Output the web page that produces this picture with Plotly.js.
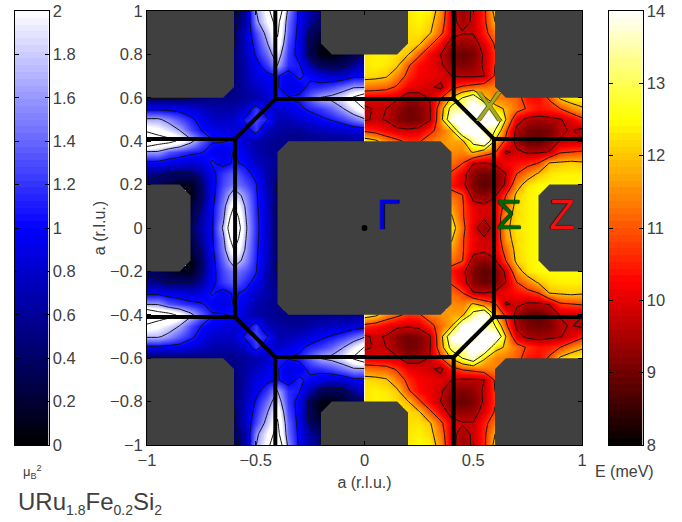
<!DOCTYPE html>
<html><head><meta charset="utf-8">
<script src="https://cdn.plot.ly/plotly-3.0.1.min.js"></script>
<style>html,body{margin:0;padding:0;background:#fff}#g{width:682px;height:522px}</style>
</head><body><div id="g"></div>
<script>
const _ = null;
// |x| columns and y rows (upper right quadrant; the figure mirrors it)
const absX = [0,.05,.1,.15,.2,.25,.3,.35,.4,.45,.5,.55,.6,.65,.7,.75,.8,.85,.9,.95,1];
const rowY = [1,.95,.9,.85,.8,.75,.7,.65,.6,.55,.5,.45,.4,.35,.3,.25,.2,.15,.1,.05,0];
// Energy in meV, right half
const energy = [
[_,_,_,_,12.3,12.5,12.4,11.5,9.9,9.4,9.8,10.6,12.2,_,_,_,_,_,_,_,_],
[_,_,_,_,12.3,12.4,12.2,11.3,9.9,9.45,9.8,10.6,11.9,_,_,_,_,_,_,_,_],
[_,_,_,_,12.2,12.3,12.0,11.0,10,9.75,9.75,10.5,11.4,_,_,_,_,_,_,_,_],
[_,_,_,_,12.2,12.05,11,10.2,9.4,9.3,9.4,10,10.9,_,_,_,_,_,_,_,_],
[12.3,12.4,12.4,12.2,11.95,10.95,10.2,9.7,9.1,8.9,9.1,9.8,10.7,_,_,_,_,_,_,_,_],
[12.3,12.4,12.3,12.05,10.9,10.3,10.1,9.8,9.3,9.1,9.3,9.8,10.8,_,_,_,_,_,_,_,_],
[12.2,12.15,12.0,11.3,10.6,10.2,10.1,10,9.7,9.6,9.6,9.7,10.9,_,_,_,_,_,_,_,_],
[11.3,11.2,11.1,10.7,10.1,10,9.85,9.5,10.5,10.9,11.1,11.3,11.4,11.4,_,_,_,_,_,_,_],
[10,10,9.95,9.8,9.35,9.45,9.75,10.7,12,13,13.8,12,11.4,11.3,11.1,10.4,10.3,10.9,12.05,12.4,12.4],
[9.6,9.75,9.7,9.3,9,9.1,9.6,11.4,13.4,13.4,14.5,14.5,12.2,11.8,11.2,10.7,10.4,10.5,10.8,11.4,11.8],
[9.6,9.8,9.65,9.2,9,9.1,9.6,11.5,14,14.5,13.4,14.5,14.5,11.9,10,9.5,9.4,9.5,9.65,10,10.6],
[10.6,10.4,10.1,9.85,9.8,9.9,10.5,11.2,11.8,14.3,14.6,13.4,13,11,9.5,9.1,9,9.1,9.6,9.75,9.5],
[12.4,12.1,11.4,11,10.6,10.7,11.3,11.5,11.7,11.7,13.4,14.4,11.8,10.6,9.4,8.9,8.85,9.2,9.75,9.8,9.75],
[_,_,_,_,_,_,_,_,11.5,11.4,12,11.3,10.9,9.6,9.85,9.6,9.6,9.75,10.7,10.8,10.9],
[_,_,_,_,_,_,_,_,11.2,10.85,9.75,9.7,9.8,10.2,10.3,10.5,10.8,11.9,12,12.1,12],
[_,_,_,_,_,_,_,_,10.7,10,9.2,8.9,9.2,9.7,10.8,11.4,12,12.3,12.4,12.4,12.4],
[_,_,_,_,_,_,_,_,10.4,9.9,9.1,8.8,9.1,9.8,11.5,12.3,12.5,12.5,12.5,12.5,12.5],
[_,_,_,_,_,_,_,_,11.2,10.85,9.35,9.2,9.6,10.8,12.1,12.4,12.5,_,_,_,_],
[_,_,_,_,_,_,_,_,11.6,10.9,10,9.85,10.1,11.1,12.2,12.4,12.5,_,_,_,_],
[_,_,_,_,_,_,_,_,12,10.9,10.1,9.8,9.95,11.6,12.2,12.4,12.5,_,_,_,_],
[_,_,_,_,_,_,_,_,12.4,11.1,9.9,9.3,10,11.7,12.3,12.4,12.5,_,_,_,_]
];
// Moment squared in muB^2, left half, same |x| columns
const moment = [
[_,_,_,_,.46,.66,.99,1.54,2.75,2.04,1.63,.6,.33,_,_,_,_,_,_,_,_],
[_,_,_,_,.42,.6,.97,1.43,2.42,1.98,1.54,.64,.36,_,_,_,_,_,_,_,_],
[_,_,_,_,.2,.41,.94,1.38,2.31,1.76,1.27,.77,.41,_,_,_,_,_,_,_,_],
[_,_,_,_,.09,.33,.94,1.27,2.15,1.6,1.16,.75,.44,_,_,_,_,_,_,_,_],
[.44,.33,.17,.06,.06,.31,.94,1.21,1.87,1.43,1.08,.72,.46,_,_,_,_,_,_,_,_],
[.77,.6,.36,.33,.36,.66,1.08,1.16,1.65,1.21,.94,.68,.46,_,_,_,_,_,_,_,_],
[.99,.97,.83,.79,.88,.99,1.1,.94,1.07,.96,.88,.66,.46,_,_,_,_,_,_,_,_],
[1.6,1.6,1.43,1.27,1.16,1.12,.94,.88,1.07,.88,.77,.64,.5,.5,_,_,_,_,_,_,_],
[2.64,2.31,1.93,1.76,1.67,1.38,1.1,1.07,1.08,.79,.66,.6,.55,.53,.51,.47,.44,.42,.41,.4,.41],
[2.27,1.93,1.63,1.38,1.21,1.12,.99,.86,.79,.86,1.2,.79,.68,.66,.68,.77,.86,.94,.95,.97,.97],
[1.6,1.41,1.21,1.08,.99,.88,.79,.72,.68,1.1,1.25,1.1,.79,.77,.79,.94,1.12,1.32,1.54,1.71,1.71],
[.88,.86,.79,.77,.72,.66,.6,.6,.64,.72,1.2,.88,.83,.88,.94,1.05,1.27,1.65,1.87,2.04,2.15],
[.6,.57,.55,.55,.55,.53,.52,.53,.55,.6,.66,.79,1.02,1.07,1.07,1.38,1.76,2.15,2.42,2.53,2.86],
[_,_,_,_,_,_,_,_,.55,.6,.68,.88,1.07,.88,.97,1.07,1.12,1.21,1.32,1.6,1.6],
[_,_,_,_,_,_,_,_,.55,.66,.77,1.01,1.08,.96,1.08,.88,.83,.88,.91,.96,.96],
[_,_,_,_,_,_,_,_,.46,.66,.97,1.16,1.38,1.21,.97,.6,.42,.41,.42,.51,.55],
[_,_,_,_,_,_,_,_,.44,.68,1.08,1.32,1.49,1.27,.94,.44,.11,.11,.22,.33,.39],
[_,_,_,_,_,_,_,_,.39,.75,1.1,1.54,1.87,1.38,.94,.42,.06,_,_,_,_],
[_,_,_,_,_,_,_,_,.36,.77,1.12,1.65,2.26,1.49,.99,.5,.22,_,_,_,_],
[_,_,_,_,_,_,_,_,.36,.79,1.14,1.71,2.64,1.54,1.01,.6,.33,_,_,_,_],
[_,_,_,_,_,_,_,_,.36,.79,1.16,1.76,2.97,1.71,1.02,.66,.39,_,_,_,_]
];
// no-data regions
const centreX=[-.35,.35,.4,.4,.35,-.35,-.4,-.4,-.35], centreY=[.4,.4,.35,-.35,-.4,-.4,-.35,.35,.4];
const topX=[-.2,.2,.2,.15,-.15,-.2,-.2], topY=[1,1,.85,.8,.8,.85,1];
const sideX=[1,.85,.8,.8,.85,1,1], sideY=[.2,.2,.15,-.15,-.2,-.2,.2];
const cornerX=[.6,1,1,.65,.6,.6], cornerY=[1,1,.6,.6,.65,1];
// zone boundary
const zoneX=[-.41,-.41,-.595,-1,null,-.595,-.595,null,-.41,.41,null,.41,.41,.595,1,null,.595,.595,null,-.41,-.41,-.595,-1,null,-.41,.41,null,.41,.41,.595,1];
const zoneY=[1,.595,.41,.41,null,.41,-.41,null,.595,.595,null,1,.595,.41,.41,null,.41,-.41,null,-1,-.595,-.41,-.41,null,-.595,-.595,null,-1,-.595,-.41,-.41];
const momentTicks=[0,.2,.4,.6,.8,1,1.2,1.4,1.6,1.8,2];
const energyTicks=[8,9,10,11,12,13,14];
const yTicks=[-1,-.8,-.6,-.4,-.2,0,.2,.4,.6,.8,1];
const xTicks=[-1,-.5,0,.5,1];

const blueScale=[[0,'#000000'],[.5,'#0000ff'],[1,'#ffffff']];
const hotScale=[[0,'#000000'],[.375,'#ff0000'],[.75,'#ffff00'],[1,'#ffffff']];
const ink='#404040', gray='#404040';
const W=682,H=522, fx=p=>p/W, fy=p=>1-p/H;

const ys=rowY.concat(rowY.slice(0,-1).reverse().map(v=>-v));
const mirrorRows=rows=>rows.concat(rows.slice(0,-1).reverse());
const eZ=mirrorRows(energy), mZ=mirrorRows(moment).map(r=>r.slice().reverse());
const xR=absX, xL=absX.slice().reverse().map(v=>-v);

const poly=(x,y)=>({type:'scatter',mode:'lines',x,y,xaxis:'x3',yaxis:'y',fill:'toself',fillcolor:gray,line:{width:0,color:gray},hoverinfo:'skip'});
const flip=a=>a.map(v=>-v);
const ramp=(a,b)=>Array.from({length:64},(_v,i)=>a+(b-a)*(i+.5)/64);
const mRamp=ramp(0,2), eRamp=ramp(8,14);

const traces=[
 {type:'heatmap',x:xL,y:ys,z:mZ,xaxis:'x',yaxis:'y',zmin:0,zmax:2,colorscale:blueScale,zsmooth:'best',showscale:false,hoverinfo:'skip'},
 {type:'heatmap',x:xR,y:ys,z:eZ,xaxis:'x2',yaxis:'y',zmin:8,zmax:14,colorscale:hotScale,zsmooth:'best',showscale:false,hoverinfo:'skip'},
 {type:'contour',x:xL,y:ys,z:mZ,xaxis:'x3',yaxis:'y',showscale:false,contours:{coloring:'none',start:.45,end:2.25,size:.6},line:{color:'#101010',width:1,smoothing:0},hoverinfo:'skip'},
 {type:'contour',x:xR,y:ys,z:eZ,xaxis:'x3',yaxis:'y',showscale:false,contours:{coloring:'none',start:9.7,end:13,size:1.1},line:{color:'#101010',width:1,smoothing:0},hoverinfo:'skip'},
 poly(centreX,centreY),poly(topX,topY),poly(topX,flip(topY)),poly(sideX,sideY),poly(flip(sideX),sideY),
 poly(cornerX,cornerY),poly(flip(cornerX),cornerY),poly(cornerX,flip(cornerY)),poly(flip(cornerX),flip(cornerY)),
 {type:'scatter',mode:'lines',x:zoneX,y:zoneY,xaxis:'x3',yaxis:'y',line:{color:'#000',width:4},connectgaps:false,hoverinfo:'skip'},
 {type:'scatter',mode:'markers',x:[0],y:[0],xaxis:'x3',yaxis:'y',marker:{color:'#000',size:6},hoverinfo:'skip'},
 {type:'heatmap',x:[0,1],y:mRamp,z:mRamp.map(v=>[v,v]),xaxis:'x4',yaxis:'y2',zmin:0,zmax:2,colorscale:blueScale,showscale:false,hoverinfo:'skip'},
 {type:'heatmap',x:[0,1],y:eRamp,z:eRamp.map(v=>[v,v]),xaxis:'x5',yaxis:'y3',zmin:8,zmax:14,colorscale:hotScale,showscale:false,hoverinfo:'skip'}
];
const font={family:'"Liberation Sans",Arial,sans-serif',size:16.5,color:ink};
const yDom=[fy(445),fy(11)];
const hidden=(dom,rng,anchor)=>({domain:dom,range:rng,anchor,visible:false,fixedrange:true});
const cbX=(dom,anchor)=>({domain:dom,range:[-.5,1.5],anchor,showticklabels:false,ticks:'',showline:true,mirror:true,linecolor:'#000',linewidth:1,zeroline:false,showgrid:false});
const cbY=(vals,rng,anchor)=>({domain:yDom,range:rng,anchor,side:'right',tickmode:'array',tickvals:vals,ticktext:vals.map(String),ticks:'inside',ticklen:4,tickcolor:'#000',mirror:'ticks',showline:true,linecolor:'#000',linewidth:1,zeroline:false,showgrid:false,tickfont:font});
const lbl=(t,x,y,c)=>({xref:'x3',yref:'y',x,y,text:t,showarrow:false,xanchor:'center',yanchor:'middle',font:{family:'"Liberation Sans",sans-serif',size:42,color:c,shadow:'0 0 1px #000, 0 0 1px #000'}});
const paperNote=(t,px,py,size,anchor)=>({xref:'paper',yref:'paper',x:fx(px),y:fy(py),text:t,showarrow:false,xanchor:anchor,yanchor:'middle',font:{family:font.family,size,color:ink}});
const small=t=>'<span style="font-size:14px">'+t+'</span>';
const layout={
 width:W,height:H,margin:{l:0,r:0,t:0,b:0,pad:0,autoexpand:false},paper_bgcolor:'#fff',plot_bgcolor:'rgba(0,0,0,0)',showlegend:false,font,
 xaxis:hidden([fx(147),fx(364.5)],[-1,0],'y'),
 xaxis2:hidden([fx(364.5),fx(582)],[0,1],'y'),
 xaxis3:{domain:[fx(147),fx(582)],range:[-1,1],anchor:'y',tickmode:'array',tickvals:xTicks,ticktext:xTicks.map(String).map(s=>s.replace('-','\u2212')),ticks:'inside',ticklen:4,tickcolor:'#000',mirror:'ticks',showline:true,linecolor:'#000',linewidth:1,zeroline:false,showgrid:false,tickfont:font,automargin:true,title:{text:'a (r.l.u.)',font:{size:16,color:ink},standoff:9}},
 yaxis:{domain:yDom,range:[-1,1],anchor:'x3',tickmode:'array',tickvals:yTicks,ticktext:yTicks.map(String).map(s=>s.replace('-','\u2212')),ticks:'inside',ticklen:4,tickcolor:'#000',mirror:'ticks',showline:true,linecolor:'#000',linewidth:1,zeroline:false,showgrid:false,tickfont:font,automargin:true,title:{text:'a (r.l.u.)',font:{size:16,color:ink},standoff:0}},
 xaxis4:cbX([fx(14.5),fx(48.5)],'y2'),
 yaxis2:cbY(momentTicks,[0,2],'x4'),
 xaxis5:cbX([fx(608.5),fx(642.5)],'y3'),
 yaxis3:cbY(energyTicks,[8,14],'x5'),
 annotations:[
  lbl('\u0393',.11,.06,'#0000e0'),
  lbl('\u03a3',.664,.06,'#006400'),
  lbl('Z',.91,.06,'#f01010'),
  lbl('X',.572,.562,'#a8a820'),
  paperNote('\u03bc<sub>B</sub><sup>2</sup>',21,472,13,'left'),
  paperNote('E (meV)',593,471,16,'left'),
  paperNote('URu<sub>'+small('1.8')+'</sub>Fe<sub>'+small('0.2')+'</sub>Si<sub>'+small('2')+'</sub>',16,503,24,'left')
 ]
};
Plotly.newPlot('g',traces,layout,{displayModeBar:false,staticPlot:true});
</script></body></html>
